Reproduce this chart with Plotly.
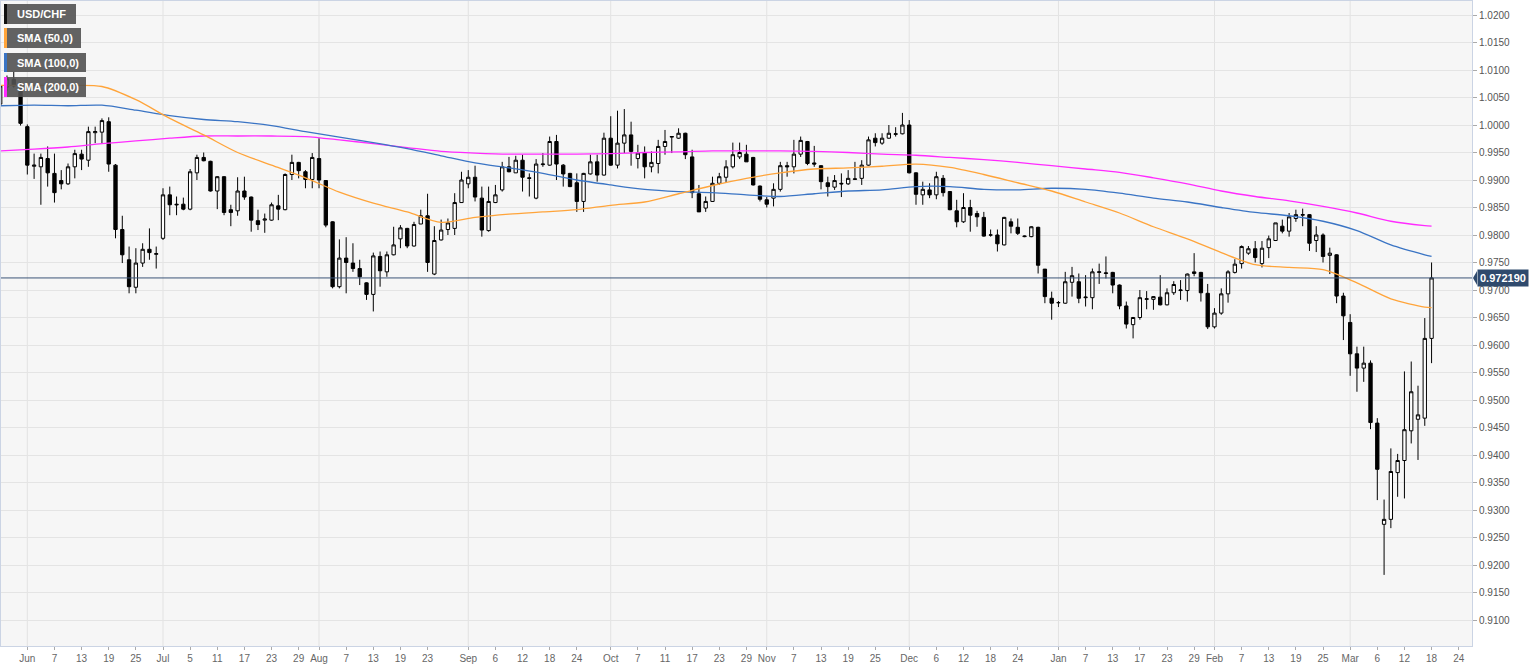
import pandas as pd
import plotly.graph_objects as go

# ---------------- data ----------------
trade_dates = pd.bdate_range("2019-05-28", "2020-03-25")  # weekday sessions (axis runs a few days past the last candle)

opens = [1.0038, 1.0069, 1.0083, 1.0071, 0.9997, 0.9925, 0.9924, 0.9939, 0.9912, 0.9899,
         0.9893, 0.9924, 0.9947, 0.9936, 0.9986, 0.9987, 1.0006, 0.9927, 0.9810, 0.9755,
         0.9705, 0.9749, 0.9774, 0.9765, 0.9794, 0.9873, 0.9856, 0.9856, 0.9847, 0.9913,
         0.9941, 0.9934, 0.9880, 0.9906, 0.9846, 0.9844, 0.9880, 0.9869, 0.9826, 0.9827,
         0.9827, 0.9853, 0.9846, 0.9910, 0.9932, 0.9915, 0.9901, 0.9939, 0.9899, 0.9824,
         0.9706, 0.9758, 0.9749, 0.9739, 0.9713, 0.9692, 0.9761, 0.9733, 0.9764, 0.9793,
         0.9812, 0.9780, 0.9820, 0.9835, 0.9729, 0.9791, 0.9810, 0.9812, 0.9859, 0.9893,
         0.9905, 0.9867, 0.9808, 0.9859, 0.9882, 0.9924, 0.9913, 0.9936, 0.9904, 0.9867,
         0.9928, 0.9927, 0.9970, 0.9927, 0.9912, 0.9895, 0.9861, 0.9911, 0.9933, 0.9909,
         0.9976, 0.9927, 0.9967, 0.9982, 0.9939, 0.9949, 0.9924, 0.9930, 0.9961, 0.9978,
         0.9976, 0.9985, 0.9942, 0.9875, 0.9849, 0.9861, 0.9894, 0.9905, 0.9924, 0.9942,
         0.9947, 0.9941, 0.9889, 0.9864, 0.9867, 0.9883, 0.9926, 0.9924, 0.9947, 0.9970,
         0.9931, 0.9926, 0.9895, 0.9887, 0.9894, 0.9893, 0.9901, 0.9903, 0.9927, 0.9976,
         0.9967, 0.9976, 0.9983, 0.9984, 1.0000, 0.9913, 0.9873, 0.9882, 0.9873, 0.9903,
         0.9879, 0.9844, 0.9824, 0.9850, 0.9839, 0.9832, 0.9800, 0.9800, 0.9782, 0.9824,
         0.9814, 0.9797, 0.9797, 0.9814, 0.9738, 0.9685, 0.9677, 0.9676, 0.9714, 0.9715,
         0.9686, 0.9686, 0.9732, 0.9730, 0.9732, 0.9709, 0.9671, 0.9637, 0.9650, 0.9683,
         0.9683, 0.9687, 0.9673, 0.9695, 0.9699, 0.9699, 0.9730, 0.9732, 0.9694, 0.9633,
         0.9658, 0.9693, 0.9732, 0.9748, 0.9767, 0.9775, 0.9748, 0.9777, 0.9790, 0.9816,
         0.9807, 0.9830, 0.9836, 0.9837, 0.9790, 0.9800, 0.9763, 0.9764, 0.9689, 0.9641,
         0.9584, 0.9558, 0.9567, 0.9458, 0.9274, 0.9283, 0.9368, 0.9390, 0.9444, 0.9465,
         0.9467, 0.9612]
highs = [1.0085, 1.0090, 1.0097, 1.0078, 1.0001, 0.9948, 0.9948, 0.9961, 0.9948, 0.9918,
         0.9930, 0.9955, 0.9955, 0.9997, 0.9997, 1.0012, 1.0014, 0.9929, 0.9835, 0.9779,
         0.9776, 0.9785, 0.9812, 0.9779, 0.9885, 0.9888, 0.9870, 0.9868, 0.9920, 0.9946,
         0.9950, 0.9935, 0.9907, 0.9907, 0.9855, 0.9905, 0.9906, 0.9870, 0.9846, 0.9839,
         0.9859, 0.9873, 0.9912, 0.9946, 0.9933, 0.9918, 0.9949, 0.9976, 0.9900, 0.9825,
         0.9792, 0.9796, 0.9785, 0.9755, 0.9714, 0.9768, 0.9770, 0.9770, 0.9815, 0.9818,
         0.9813, 0.9824, 0.9846, 0.9875, 0.9816, 0.9828, 0.9830, 0.9876, 0.9915, 0.9918,
         0.9926, 0.9888, 0.9888, 0.9891, 0.9933, 0.9942, 0.9944, 0.9946, 0.9912, 0.9938,
         0.9949, 0.9979, 0.9982, 0.9929, 0.9913, 0.9912, 0.9913, 0.9946, 0.9946, 0.9986,
         1.0016, 1.0026, 1.0029, 1.0006, 0.9964, 0.9961, 0.9952, 0.9973, 0.9991, 0.9980,
         0.9994, 0.9986, 0.9955, 0.9891, 0.9870, 0.9906, 0.9913, 0.9936, 0.9968, 0.9968,
         0.9964, 0.9942, 0.9890, 0.9869, 0.9894, 0.9933, 0.9933, 0.9973, 0.9979, 0.9971,
         0.9962, 0.9927, 0.9906, 0.9909, 0.9912, 0.9918, 0.9933, 0.9936, 0.9979, 0.9985,
         0.9985, 1.0000, 0.9996, 1.0022, 1.0009, 0.9914, 0.9897, 0.9894, 0.9915, 0.9909,
         0.9880, 0.9864, 0.9876, 0.9864, 0.9844, 0.9842, 0.9810, 0.9810, 0.9833, 0.9830,
         0.9830, 0.9799, 0.9816, 0.9815, 0.9738, 0.9697, 0.9680, 0.9733, 0.9742, 0.9730,
         0.9727, 0.9739, 0.9748, 0.9761, 0.9733, 0.9710, 0.9679, 0.9651, 0.9700, 0.9698,
         0.9689, 0.9727, 0.9703, 0.9716, 0.9718, 0.9730, 0.9767, 0.9733, 0.9711, 0.9667,
         0.9703, 0.9736, 0.9756, 0.9781, 0.9780, 0.9789, 0.9789, 0.9799, 0.9822, 0.9828,
         0.9840, 0.9846, 0.9848, 0.9838, 0.9816, 0.9803, 0.9777, 0.9765, 0.9695, 0.9656,
         0.9597, 0.9597, 0.9572, 0.9467, 0.9319, 0.9412, 0.9402, 0.9552, 0.9570, 0.9526,
         0.9649, 0.9750]
lows = [1.0030, 1.0062, 1.0068, 0.9999, 0.9910, 0.9902, 0.9855, 0.9888, 0.9859, 0.9883,
        0.9891, 0.9903, 0.9918, 0.9924, 0.9967, 0.9967, 0.9915, 0.9794, 0.9749, 0.9694,
        0.9694, 0.9742, 0.9755, 0.9739, 0.9791, 0.9836, 0.9836, 0.9845, 0.9845, 0.9900,
        0.9934, 0.9879, 0.9847, 0.9836, 0.9816, 0.9835, 0.9864, 0.9806, 0.9809, 0.9804,
        0.9826, 0.9827, 0.9845, 0.9900, 0.9903, 0.9885, 0.9885, 0.9885, 0.9814, 0.9703,
        0.9703, 0.9694, 0.9733, 0.9709, 0.9682, 0.9661, 0.9706, 0.9724, 0.9763, 0.9776,
        0.9776, 0.9779, 0.9820, 0.9733, 0.9727, 0.9790, 0.9800, 0.9800, 0.9859, 0.9885,
        0.9861, 0.9797, 0.9806, 0.9858, 0.9879, 0.9914, 0.9913, 0.9879, 0.9870, 0.9865,
        0.9924, 0.9926, 0.9900, 0.9888, 0.9887, 0.9842, 0.9842, 0.9910, 0.9897, 0.9908,
        0.9926, 0.9921, 0.9949, 0.9926, 0.9921, 0.9903, 0.9914, 0.9912, 0.9946, 0.9949,
        0.9975, 0.9938, 0.9867, 0.9842, 0.9842, 0.9860, 0.9891, 0.9895, 0.9921, 0.9938,
        0.9933, 0.9890, 0.9861, 0.9850, 0.9852, 0.9879, 0.9906, 0.9912, 0.9942, 0.9927,
        0.9924, 0.9883, 0.9870, 0.9882, 0.9869, 0.9891, 0.9900, 0.9891, 0.9926, 0.9961,
        0.9964, 0.9975, 0.9979, 0.9983, 0.9912, 0.9855, 0.9855, 0.9867, 0.9865, 0.9870,
        0.9845, 0.9814, 0.9822, 0.9806, 0.9815, 0.9797, 0.9797, 0.9770, 0.9781, 0.9803,
        0.9800, 0.9796, 0.9796, 0.9730, 0.9676, 0.9646, 0.9669, 0.9675, 0.9688, 0.9676,
        0.9670, 0.9665, 0.9711, 0.9721, 0.9694, 0.9665, 0.9630, 0.9612, 0.9646, 0.9665,
        0.9664, 0.9672, 0.9672, 0.9691, 0.9682, 0.9679, 0.9725, 0.9679, 0.9629, 0.9630,
        0.9655, 0.9677, 0.9730, 0.9739, 0.9764, 0.9750, 0.9741, 0.9758, 0.9789, 0.9803,
        0.9797, 0.9824, 0.9816, 0.9771, 0.9769, 0.9750, 0.9729, 0.9676, 0.9609, 0.9544,
        0.9515, 0.9533, 0.9447, 0.9318, 0.9182, 0.9267, 0.9324, 0.9321, 0.9421, 0.9391,
        0.9453, 0.9567]
closes = [1.0071, 1.0084, 1.0071, 1.0003, 0.9927, 0.9927, 0.9941, 0.9913, 0.9877, 0.9893,
          0.9924, 0.9948, 0.9938, 0.9988, 0.9988, 1.0008, 0.9929, 0.9810, 0.9764, 0.9706,
          0.9749, 0.9774, 0.9768, 0.9766, 0.9873, 0.9855, 0.9855, 0.9847, 0.9915, 0.9941,
          0.9935, 0.9880, 0.9906, 0.9841, 0.9841, 0.9880, 0.9869, 0.9827, 0.9819, 0.9829,
          0.9855, 0.9847, 0.9910, 0.9932, 0.9917, 0.9901, 0.9941, 0.9900, 0.9818, 0.9706,
          0.9758, 0.9750, 0.9739, 0.9724, 0.9692, 0.9762, 0.9735, 0.9764, 0.9782, 0.9813,
          0.9780, 0.9819, 0.9835, 0.9750, 0.9790, 0.9809, 0.9822, 0.9859, 0.9900, 0.9905,
          0.9869, 0.9809, 0.9861, 0.9873, 0.9924, 0.9915, 0.9936, 0.9905, 0.9903, 0.9929,
          0.9929, 0.9970, 0.9929, 0.9911, 0.9888, 0.9861, 0.9912, 0.9933, 0.9909, 0.9976,
          0.9927, 0.9967, 0.9982, 0.9952, 0.9949, 0.9924, 0.9932, 0.9961, 0.9970, 0.9979,
          0.9985, 0.9946, 0.9877, 0.9842, 0.9861, 0.9894, 0.9906, 0.9924, 0.9946, 0.9950,
          0.9933, 0.9891, 0.9865, 0.9856, 0.9883, 0.9926, 0.9924, 0.9947, 0.9972, 0.9930,
          0.9929, 0.9897, 0.9888, 0.9899, 0.9893, 0.9903, 0.9902, 0.9927, 0.9973, 0.9968,
          0.9976, 0.9985, 0.9984, 1.0000, 0.9913, 0.9874, 0.9883, 0.9873, 0.9906, 0.9877,
          0.9846, 0.9824, 0.9850, 0.9836, 0.9833, 0.9798, 0.9800, 0.9784, 0.9832, 0.9816,
          0.9803, 0.9798, 0.9815, 0.9745, 0.9688, 0.9676, 0.9677, 0.9715, 0.9726, 0.9685,
          0.9687, 0.9733, 0.9733, 0.9731, 0.9709, 0.9671, 0.9638, 0.9650, 0.9686, 0.9684,
          0.9688, 0.9673, 0.9695, 0.9710, 0.9700, 0.9729, 0.9733, 0.9695, 0.9633, 0.9658,
          0.9693, 0.9733, 0.9747, 0.9779, 0.9775, 0.9759, 0.9776, 0.9793, 0.9822, 0.9807,
          0.9833, 0.9837, 0.9837, 0.9785, 0.9800, 0.9761, 0.9767, 0.9689, 0.9653, 0.9584,
          0.9558, 0.9567, 0.9459, 0.9374, 0.9283, 0.9370, 0.9390, 0.9446, 0.9515, 0.9473,
          0.9612, 0.97219]

sma_dates = ["2019-05-28", "2019-06-04", "2019-06-11", "2019-06-18", "2019-06-25", "2019-07-02",
             "2019-07-09", "2019-07-16", "2019-07-23", "2019-07-30", "2019-08-06", "2019-08-13",
             "2019-08-20", "2019-08-27", "2019-09-03", "2019-09-10", "2019-09-17", "2019-09-24",
             "2019-10-01", "2019-10-08", "2019-10-15", "2019-10-22", "2019-10-29", "2019-11-05",
             "2019-11-12", "2019-11-19", "2019-11-26", "2019-12-03", "2019-12-10", "2019-12-17",
             "2019-12-24", "2019-12-31", "2020-01-07", "2020-01-14", "2020-01-21", "2020-01-28",
             "2020-02-04", "2020-02-11", "2020-02-18", "2020-02-25", "2020-03-03", "2020-03-10",
             "2020-03-17", "2020-03-18"]
sma50 = [1.0072, 1.0072, 1.0072, 1.0070, 1.0046, 1.0012, 0.9982, 0.9950, 0.9927, 0.9904,
         0.9878, 0.9858, 0.9842, 0.9823, 0.9832, 0.9838, 0.9842, 0.9846, 0.9854, 0.9860,
         0.9875, 0.9890, 0.9903, 0.9913, 0.9920, 0.9922, 0.9925, 0.9929, 0.9923, 0.9910,
         0.9895, 0.9880, 0.9860, 0.9840, 0.9815, 0.9793, 0.9768, 0.9746, 0.9741, 0.9737,
         0.9713, 0.9684, 0.9669, 0.9668]
sma100 = [1.0035, 1.0036, 1.0035, 1.0036, 1.0027, 1.0017, 1.0010, 1.0006, 0.9999, 0.9988,
          0.9978, 0.9968, 0.9957, 0.9944, 0.9931, 0.9922, 0.9912, 0.9900, 0.9891, 0.9883,
          0.9879, 0.9877, 0.9873, 0.9870, 0.9875, 0.9880, 0.9882, 0.9888, 0.9888, 0.9883,
          0.9882, 0.9885, 0.9883, 0.9876, 0.9867, 0.9860, 0.9850, 0.9841, 0.9835, 0.9825,
          0.9808, 0.9782, 0.9764, 0.9761]
sma200 = [0.9953, 0.9956, 0.9960, 0.9966, 0.9971, 0.9976, 0.9980, 0.9980, 0.9980, 0.9979,
          0.9973, 0.9966, 0.9959, 0.9952, 0.9949, 0.9947, 0.9947, 0.9947, 0.9948, 0.9950,
          0.9951, 0.9953, 0.9953, 0.9953, 0.9952, 0.9950, 0.9947, 0.9945, 0.9941, 0.9937,
          0.9932, 0.9926, 0.9920, 0.9914, 0.9904, 0.9893, 0.9880, 0.9870, 0.9862, 0.9852,
          0.9840, 0.9825, 0.9817, 0.9816]

tick_dates = ["2019-06-03", "2019-06-07", "2019-06-13", "2019-06-19", "2019-06-25", "2019-07-01",
              "2019-07-05", "2019-07-11", "2019-07-17", "2019-07-23", "2019-07-29", "2019-08-01",
              "2019-08-07", "2019-08-13", "2019-08-19", "2019-08-23", "2019-09-02", "2019-09-06",
              "2019-09-12", "2019-09-18", "2019-09-24", "2019-10-01", "2019-10-07", "2019-10-11",
              "2019-10-17", "2019-10-23", "2019-10-29", "2019-11-01", "2019-11-07", "2019-11-13",
              "2019-11-19", "2019-11-25", "2019-12-02", "2019-12-06", "2019-12-12", "2019-12-18",
              "2019-12-24", "2020-01-01", "2020-01-07", "2020-01-13", "2020-01-17", "2020-01-23",
              "2020-01-29", "2020-02-03", "2020-02-07", "2020-02-13", "2020-02-19", "2020-02-25",
              "2020-03-02", "2020-03-06", "2020-03-12", "2020-03-18", "2020-03-24"]
tick_labels = ["Jun", "7", "13", "19", "25", "Jul", "5", "11", "17", "23", "29", "Aug",
               "7", "13", "19", "23", "Sep", "6", "12", "18", "24", "Oct", "7", "11",
               "17", "23", "29", "Nov", "7", "13", "19", "25", "Dec", "6", "12", "18",
               "24", "Jan", "7", "13", "17", "23", "29", "Feb", "7", "13", "19", "25",
               "Mar", "6", "12", "18", "24"]
price_ticks = [0.9100, 0.9150, 0.9200, 0.9250, 0.9300, 0.9350, 0.9400, 0.9450, 0.9500, 0.9550,
               0.9600, 0.9650, 0.9700, 0.9750, 0.9800, 0.9850, 0.9900, 0.9950, 1.0000, 1.0050,
               1.0100, 1.0150, 1.0200]
last_price = 0.97219
legend_items = ["USD/CHF", "SMA (50,0)", "SMA (100,0)", "SMA (200,0)"]

# ---------------- styling ----------------
C_SMA50 = "#ffa43a"
C_SMA100 = "#3a74c4"
C_SMA200 = "#ff2bff"
C_PRICE = "#3b5578"
legend_colors = ["#111111", C_SMA50, C_SMA100, C_SMA200]

pos = {d.strftime("%Y-%m-%d"): k for k, d in enumerate(trade_dates)}
xc = list(range(len(closes)))

fig = go.Figure()
fig.add_trace(go.Candlestick(
    x=xc, open=opens, high=highs, low=lows, close=closes,
    increasing=dict(line=dict(color="#000000", width=1), fillcolor="#ffffff"),
    decreasing=dict(line=dict(color="#000000", width=1), fillcolor="#000000"),
    whiskerwidth=0, showlegend=False, hoverinfo="skip"))

sx = [pos[d] for d in sma_dates]
for vals, col in [(sma200, C_SMA200), (sma100, C_SMA100), (sma50, C_SMA50)]:
    fig.add_trace(go.Scatter(x=sx, y=vals, mode="lines",
                             line=dict(color=col, width=1.3, shape="spline", smoothing=0.8),
                             showlegend=False, hoverinfo="skip"))

tickvals = [pos[d] for d in tick_dates]
month_names = {"Jan", "Feb", "Mar", "Apr", "May", "Jun", "Jul", "Aug", "Sep", "Oct", "Nov", "Dec"}
shapes = []
for tv, tl in zip(tickvals, tick_labels):
    if tl in month_names:
        shapes.append(dict(type="line", xref="x", yref="paper", x0=tv, x1=tv, y0=0, y1=1,
                           line=dict(color="#e2e2e2", width=1), layer="below"))
# current price line
shapes.append(dict(type="line", xref="paper", yref="y", x0=0, x1=1, y0=last_price, y1=last_price,
                   line=dict(color=C_PRICE, width=1)))
# price label pointer
shapes.append(dict(type="path", xref="paper", yref="y", xsizemode="pixel", ysizemode="pixel",
                   xanchor=1, yanchor=last_price, path="M 1 0 L 5 -7 L 5 7 Z",
                   fillcolor="#2f4a6d", line=dict(width=0)))

annotations = []
box_tops = [3, 27, 52, 76]
box_w = [72, 77, 82, 82]
box_h = [20, 20, 19, 20]
for name, col, top, w, h in zip(legend_items, legend_colors, box_tops, box_w, box_h):
    shapes.append(dict(type="rect", xref="paper", yref="paper", xsizemode="pixel", ysizemode="pixel",
                       xanchor=0, yanchor=1, x0=3, x1=3 + w, y0=-top, y1=-(top + h),
                       fillcolor="rgba(82,82,82,0.9)", line=dict(width=0), layer="above"))
    shapes.append(dict(type="rect", xref="paper", yref="paper", xsizemode="pixel", ysizemode="pixel",
                       xanchor=0, yanchor=1, x0=3, x1=6, y0=-top, y1=-(top + h),
                       fillcolor=col, line=dict(width=0), layer="above"))
    annotations.append(dict(text="<b>%s</b>" % name, xref="paper", yref="paper", x=0, y=1,
                            xanchor="left", yanchor="middle", xshift=14, yshift=-(top + h / 2.0),
                            showarrow=False, font=dict(family="Arial, Liberation Sans", size=11, color="#ffffff")))

annotations.append(dict(text="<b>%.6f</b>" % last_price, xref="paper", yref="y", x=1, y=last_price,
                        xanchor="left", yanchor="middle", xshift=5, showarrow=False,
                        bgcolor="#2f4a6d", borderpad=2,
                        font=dict(family="Arial, Liberation Sans", size=11, color="#ffffff")))

fig.update_layout(
    width=1536, height=669,
    margin=dict(l=1, r=64, t=1, b=23),
    paper_bgcolor="#ffffff", plot_bgcolor="#f6f6f6",
    showlegend=False, hovermode=False,
    font=dict(family="Arial, Liberation Sans", size=10, color="#666666"),
    shapes=shapes, annotations=annotations,
    xaxis=dict(range=[0.12, 216.96], tickmode="array", tickvals=tickvals, ticktext=tick_labels,
               showgrid=False, zeroline=False, showline=True, mirror=True, linecolor="#cbd4e4",
               ticks="outside", ticklen=3, tickcolor="#aaaaaa", rangeslider=dict(visible=False),
               tickfont=dict(size=10, color="#666666")),
    yaxis=dict(range=[0.905273, 1.022545], side="right", tickmode="array", tickvals=price_ticks,
               tickformat=".4f", showgrid=True, gridcolor="#e4e4e4", zeroline=False,
               showline=True, mirror=True, linecolor="#cbd4e4",
               ticks="outside", ticklen=4, tickcolor="#aaaaaa",
               tickfont=dict(size=10, color="#555555")),
)

fig.write_html("out.html", config={"displayModeBar": False},
               post_script="document.body.style.margin='0px'; document.body.style.overflow='hidden';")
